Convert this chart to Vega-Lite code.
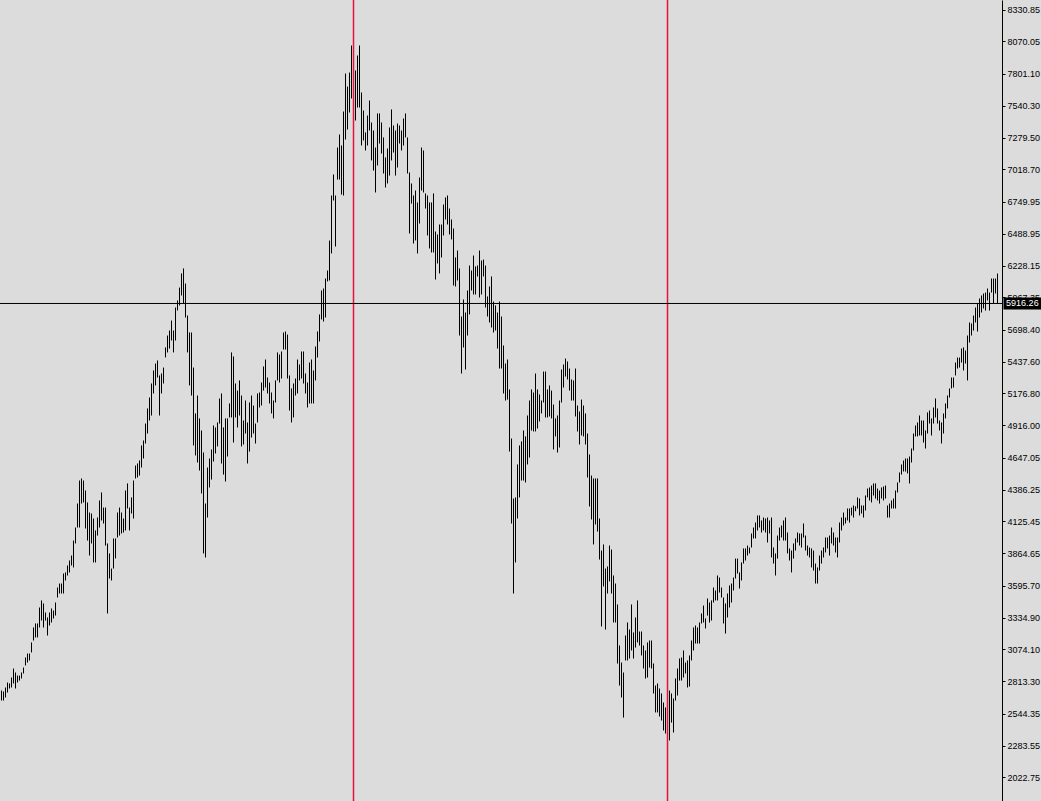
{
  "$schema": "https://vega.github.io/schema/vega-lite/v6.json",
  "width": 1002,
  "height": 801,
  "autosize": {"type": "none"},
  "padding": {"left": 0, "top": 0, "right": 39, "bottom": 0},
  "background": "#dcdcdc",
  "config": {
    "view": {"stroke": null, "fill": "#dcdcdc"},
    "axisY": {
      "grid": false,
      "domainColor": "#000000",
      "domainWidth": 1,
      "tickColor": "#000000",
      "tickSize": 3,
      "labelPadding": 2,
      "labelFont": "Liberation Sans",
      "labelFontSize": 9,
      "labelColor": "#000000",
      "labelBaseline": "middle",
      "labelAlign": "left",
      "labelOverlap": false,
      "labelBound": false,
      "labelFlush": false,
      "tickCount": 40
    }
  },
  "datasets": {
    "bars": [
      {"i":0,"h":2737,"l":2655},{"i":1,"h":2729,"l":2655},{"i":2,"h":2762,"l":2680},{"i":3,"h":2803,"l":2721},{"i":4,"h":2795,"l":2754},
      {"i":5,"h":2844,"l":2762},{"i":6,"h":2918,"l":2795},{"i":7,"h":2885,"l":2754},{"i":8,"h":2860,"l":2803},{"i":9,"h":2860,"l":2819},
      {"i":10,"h":2885,"l":2836},{"i":11,"h":2926,"l":2877},{"i":12,"h":3008,"l":2943},{"i":13,"h":3041,"l":2967},{"i":14,"h":3041,"l":2984},
      {"i":15,"h":3132,"l":3050},{"i":16,"h":3255,"l":3148},{"i":17,"h":3288,"l":3173},{"i":18,"h":3288,"l":3173},{"i":19,"h":3419,"l":3255},
      {"i":20,"h":3477,"l":3312},{"i":21,"h":3452,"l":3255},{"i":22,"h":3378,"l":3312},{"i":23,"h":3337,"l":3189},{"i":24,"h":3378,"l":3271},
      {"i":25,"h":3411,"l":3296},{"i":26,"h":3394,"l":3329},{"i":27,"h":3460,"l":3353},{"i":28,"h":3583,"l":3501},{"i":29,"h":3616,"l":3534},
      {"i":30,"h":3616,"l":3534},{"i":31,"h":3698,"l":3534},{"i":32,"h":3707,"l":3641},{"i":33,"h":3764,"l":3682},{"i":34,"h":3805,"l":3707},
      {"i":35,"h":3846,"l":3764},{"i":36,"h":3969,"l":3748},{"i":37,"h":4076,"l":3945},{"i":38,"h":4273,"l":4076},{"i":39,"h":4462,"l":4076},
      {"i":40,"h":4479,"l":4273},{"i":41,"h":4462,"l":4282},{"i":42,"h":4380,"l":4068},{"i":43,"h":4282,"l":3969},{"i":44,"h":4199,"l":3846},
      {"i":45,"h":4191,"l":3945},{"i":46,"h":4150,"l":3789},{"i":47,"h":4052,"l":3789},{"i":48,"h":4158,"l":4010},{"i":49,"h":4298,"l":4076},
      {"i":50,"h":4364,"l":4134},{"i":51,"h":4240,"l":4109},{"i":52,"h":4240,"l":3928},{"i":53,"h":3945,"l":3370},{"i":54,"h":3863,"l":3657},
      {"i":55,"h":3739,"l":3641},{"i":56,"h":3986,"l":3739},{"i":57,"h":3986,"l":3822},{"i":58,"h":4199,"l":3994},{"i":59,"h":4240,"l":4010},
      {"i":60,"h":4199,"l":4027},{"i":61,"h":4150,"l":4035},{"i":62,"h":4380,"l":4052},{"i":63,"h":4438,"l":4232},{"i":64,"h":4240,"l":4052},
      {"i":65,"h":4323,"l":4191},{"i":66,"h":4462,"l":4150},{"i":67,"h":4585,"l":4479},{"i":68,"h":4602,"l":4487},{"i":69,"h":4627,"l":4503},
      {"i":70,"h":4750,"l":4569},{"i":71,"h":4791,"l":4643},{"i":72,"h":4930,"l":4766},{"i":73,"h":5054,"l":4848},{"i":74,"h":5144,"l":4955},
      {"i":75,"h":5259,"l":4996},{"i":76,"h":5366,"l":5177},{"i":77,"h":5423,"l":5243},{"i":78,"h":5448,"l":5308},{"i":79,"h":5325,"l":4996},
      {"i":80,"h":5341,"l":5177},{"i":81,"h":5390,"l":5259},{"i":82,"h":5555,"l":5473},{"i":83,"h":5653,"l":5514},{"i":84,"h":5694,"l":5546},
      {"i":85,"h":5776,"l":5612},{"i":86,"h":5694,"l":5514},{"i":87,"h":5883,"l":5612},{"i":88,"h":5941,"l":5859},{"i":89,"h":6047,"l":5900},
      {"i":90,"h":6163,"l":5982},{"i":91,"h":6204,"l":5916},{"i":92,"h":6080,"l":5801},{"i":93,"h":5817,"l":5514},{"i":94,"h":5678,"l":5243},
      {"i":95,"h":5678,"l":5160},{"i":96,"h":5390,"l":4750},{"i":97,"h":5013,"l":4668},{"i":98,"h":5160,"l":4610},{"i":99,"h":4972,"l":4544},
      {"i":100,"h":4873,"l":4356},{"i":101,"h":4692,"l":3863},{"i":102,"h":4273,"l":3830},{"i":103,"h":4569,"l":4158},{"i":104,"h":4643,"l":4405},
      {"i":105,"h":4717,"l":4470},{"i":106,"h":4914,"l":4618},{"i":107,"h":4898,"l":4684},{"i":108,"h":4939,"l":4742},{"i":109,"h":5136,"l":4930},
      {"i":110,"h":5177,"l":4602},{"i":111,"h":4898,"l":4511},{"i":112,"h":4972,"l":4454},{"i":113,"h":4972,"l":4659},{"i":114,"h":5095,"l":4980},
      {"i":115,"h":5514,"l":4980},{"i":116,"h":5481,"l":4774},{"i":117,"h":5259,"l":4980},{"i":118,"h":5201,"l":4898},{"i":119,"h":5284,"l":4996},
      {"i":120,"h":5160,"l":4742},{"i":121,"h":4955,"l":4758},{"i":122,"h":5119,"l":4848},{"i":123,"h":4939,"l":4602},{"i":124,"h":5103,"l":4700},
      {"i":125,"h":5160,"l":4815},{"i":126,"h":5078,"l":4848},{"i":127,"h":4930,"l":4766},{"i":128,"h":5177,"l":4939},{"i":129,"h":5185,"l":5062},
      {"i":130,"h":5267,"l":5078},{"i":131,"h":5399,"l":5201},{"i":132,"h":5456,"l":5226},{"i":133,"h":5308,"l":5177},{"i":134,"h":5267,"l":5095},
      {"i":135,"h":5185,"l":5013},{"i":136,"h":5119,"l":4972},{"i":137,"h":5284,"l":5103},{"i":138,"h":5514,"l":5284},{"i":139,"h":5497,"l":5267},
      {"i":140,"h":5522,"l":5300},{"i":141,"h":5678,"l":5538},{"i":142,"h":5686,"l":5538},{"i":143,"h":5661,"l":5300},{"i":144,"h":5325,"l":5037},
      {"i":145,"h":5218,"l":4939},{"i":146,"h":5259,"l":4980},{"i":147,"h":5300,"l":5160},{"i":148,"h":5456,"l":5177},{"i":149,"h":5415,"l":5284},
      {"i":150,"h":5522,"l":5300},{"i":151,"h":5522,"l":5259},{"i":152,"h":5341,"l":5177},{"i":153,"h":5267,"l":5062},{"i":154,"h":5431,"l":5095},
      {"i":155,"h":5456,"l":5095},{"i":156,"h":5366,"l":5095},{"i":157,"h":5563,"l":5284},{"i":158,"h":5686,"l":5472},{"i":159,"h":5826,"l":5604},
      {"i":160,"h":6023,"l":5785},{"i":161,"h":6039,"l":5768},{"i":162,"h":6121,"l":5801},{"i":163,"h":6187,"l":6097},{"i":164,"h":6433,"l":6105},
      {"i":165,"h":6803,"l":6327},{"i":166,"h":6976,"l":6762},{"i":167,"h":6803,"l":6384},{"i":168,"h":7197,"l":6934},{"i":169,"h":7304,"l":6934},
      {"i":170,"h":7214,"l":6811},{"i":171,"h":7493,"l":6803},{"i":172,"h":7805,"l":7263},{"i":173,"h":7698,"l":7345},{"i":174,"h":7813,"l":7485},
      {"i":175,"h":8035,"l":7600},{"i":176,"h":7950,"l":7450},{"i":177,"h":7830,"l":7419},{"i":178,"h":7953,"l":7526},{"i":179,"h":8035,"l":7526},
      {"i":180,"h":7649,"l":7214},{"i":181,"h":7501,"l":7255},{"i":182,"h":7321,"l":7173},{"i":183,"h":7460,"l":7214},{"i":184,"h":7583,"l":7337},
      {"i":185,"h":7403,"l":7091},{"i":186,"h":7337,"l":7008},{"i":187,"h":7197,"l":6828},{"i":188,"h":7477,"l":7050},{"i":189,"h":7477,"l":7230},
      {"i":190,"h":7403,"l":7148},{"i":191,"h":7280,"l":6984},{"i":192,"h":7115,"l":6869},{"i":193,"h":7189,"l":6902},{"i":194,"h":7362,"l":6967},
      {"i":195,"h":7510,"l":7091},{"i":196,"h":7378,"l":7156},{"i":197,"h":7337,"l":6967},{"i":198,"h":7394,"l":7033},{"i":199,"h":7378,"l":7230},
      {"i":200,"h":7337,"l":7173},{"i":201,"h":7436,"l":7214},{"i":202,"h":7477,"l":7280},{"i":203,"h":7280,"l":6984},{"i":204,"h":6992,"l":6491},
      {"i":205,"h":6902,"l":6737},{"i":206,"h":6803,"l":6409},{"i":207,"h":6844,"l":6434},{"i":208,"h":6746,"l":6327},{"i":209,"h":6951,"l":6573},
      {"i":210,"h":7197,"l":6844},{"i":211,"h":7173,"l":6828},{"i":212,"h":6820,"l":6696},{"i":213,"h":6803,"l":6475},{"i":214,"h":6746,"l":6368},
      {"i":215,"h":6746,"l":6335},{"i":216,"h":6820,"l":6335},{"i":217,"h":6507,"l":6113},{"i":218,"h":6483,"l":6245},{"i":219,"h":6565,"l":6163},
      {"i":220,"h":6565,"l":6294},{"i":221,"h":6729,"l":6475},{"i":222,"h":6787,"l":6606},{"i":223,"h":6803,"l":6565},{"i":224,"h":6696,"l":6483},
      {"i":225,"h":6606,"l":6442},{"i":226,"h":6532,"l":6064},{"i":227,"h":6294,"l":6056},{"i":228,"h":6351,"l":6105},{"i":229,"h":6204,"l":5653},
      {"i":230,"h":5809,"l":5341},{"i":231,"h":5949,"l":5555},{"i":232,"h":5842,"l":5374},{"i":233,"h":6023,"l":5653},{"i":234,"h":6228,"l":5826},
      {"i":235,"h":6187,"l":6023},{"i":236,"h":6310,"l":5990},{"i":237,"h":6220,"l":5990},{"i":238,"h":6228,"l":6138},{"i":239,"h":6351,"l":5965},
      {"i":240,"h":6269,"l":5990},{"i":241,"h":6277,"l":6138},{"i":242,"h":6228,"l":5883},{"i":243,"h":5974,"l":5809},{"i":244,"h":6056,"l":5760},
      {"i":245,"h":6138,"l":5719},{"i":246,"h":5932,"l":5678},{"i":247,"h":5900,"l":5694},{"i":248,"h":5842,"l":5546},{"i":249,"h":5932,"l":5382},
      {"i":250,"h":5809,"l":5382},{"i":251,"h":5571,"l":5177},{"i":252,"h":5423,"l":5119},{"i":253,"h":5456,"l":5127},{"i":254,"h":5210,"l":4700},
      {"i":255,"h":4807,"l":4109},{"i":256,"h":4314,"l":3534},{"i":257,"h":4323,"l":3789},{"i":258,"h":4594,"l":4150},{"i":259,"h":4750,"l":4323},
      {"i":260,"h":4783,"l":4462},{"i":261,"h":4873,"l":4462},{"i":262,"h":4824,"l":4446},{"i":263,"h":4996,"l":4594},{"i":264,"h":5119,"l":4651},
      {"i":265,"h":5210,"l":4873},{"i":266,"h":5185,"l":4865},{"i":267,"h":5341,"l":4865},{"i":268,"h":5210,"l":4889},{"i":269,"h":5169,"l":4947},
      {"i":270,"h":5119,"l":5013},{"i":271,"h":5357,"l":5103},{"i":272,"h":5357,"l":4980},{"i":273,"h":5210,"l":4980},{"i":274,"h":5243,"l":4988},
      {"i":275,"h":5201,"l":4972},{"i":276,"h":5086,"l":4717},{"i":277,"h":4972,"l":4824},{"i":278,"h":4996,"l":4692},{"i":279,"h":5119,"l":4733},
      {"i":280,"h":5374,"l":5103},{"i":281,"h":5415,"l":5226},{"i":282,"h":5464,"l":5316},{"i":283,"h":5440,"l":5292},{"i":284,"h":5382,"l":5201},
      {"i":285,"h":5292,"l":5119},{"i":286,"h":5284,"l":5119},{"i":287,"h":5382,"l":4988},{"i":288,"h":5078,"l":4865},{"i":289,"h":5029,"l":4758},
      {"i":290,"h":5127,"l":4832},{"i":291,"h":5078,"l":4824},{"i":292,"h":5013,"l":4758},{"i":293,"h":4848,"l":4487},{"i":294,"h":4676,"l":4249},
      {"i":295,"h":4503,"l":4142},{"i":296,"h":4479,"l":3937},{"i":297,"h":4479,"l":4101},{"i":298,"h":4479,"l":4043},{"i":299,"h":4150,"l":3813},
      {"i":300,"h":3887,"l":3263},{"i":301,"h":3937,"l":3592},{"i":302,"h":3739,"l":3238},{"i":303,"h":3756,"l":3534},{"i":304,"h":3928,"l":3633},
      {"i":305,"h":3895,"l":3534},{"i":306,"h":3682,"l":3296},{"i":307,"h":3616,"l":3296},{"i":308,"h":3444,"l":2959},{"i":309,"h":3107,"l":2778},
      {"i":310,"h":2967,"l":2680},{"i":311,"h":2885,"l":2515},{"i":312,"h":3189,"l":2984},{"i":313,"h":3296,"l":2984},{"i":314,"h":3238,"l":3000},
      {"i":315,"h":3444,"l":3066},{"i":316,"h":3214,"l":3000},{"i":317,"h":3337,"l":3090},{"i":318,"h":3477,"l":3132},{"i":319,"h":3222,"l":3107},
      {"i":320,"h":3222,"l":3025},{"i":321,"h":3107,"l":2918},{"i":322,"h":3066,"l":2836},{"i":323,"h":3132,"l":2844},{"i":324,"h":3148,"l":2926},
      {"i":325,"h":3148,"l":2918},{"i":326,"h":2959,"l":2713},{"i":327,"h":2778,"l":2557},{"i":328,"h":2795,"l":2557},{"i":329,"h":2754,"l":2524},
      {"i":330,"h":2713,"l":2491},{"i":331,"h":2639,"l":2409},{"i":332,"h":2598,"l":2384},{"i":333,"h":2655,"l":2310},{"i":334,"h":2737,"l":2327},
      {"i":335,"h":2713,"l":2474},{"i":336,"h":2672,"l":2392},{"i":337,"h":2836,"l":2655},{"i":338,"h":2918,"l":2696},{"i":339,"h":3000,"l":2819},
      {"i":340,"h":3008,"l":2819},{"i":341,"h":3066,"l":2844},{"i":342,"h":2967,"l":2877},{"i":343,"h":2984,"l":2762},{"i":344,"h":3025,"l":2770},
      {"i":345,"h":3148,"l":2984},{"i":346,"h":3255,"l":3066},{"i":347,"h":3271,"l":3123},{"i":348,"h":3255,"l":3123},{"i":349,"h":3296,"l":3123},
      {"i":350,"h":3370,"l":3288},{"i":351,"h":3435,"l":3296},{"i":352,"h":3329,"l":3247},{"i":353,"h":3493,"l":3353},{"i":354,"h":3460,"l":3296},
      {"i":355,"h":3477,"l":3312},{"i":356,"h":3583,"l":3460},{"i":357,"h":3559,"l":3477},{"i":358,"h":3682,"l":3477},{"i":359,"h":3665,"l":3542},
      {"i":360,"h":3583,"l":3501},{"i":361,"h":3501,"l":3288},{"i":362,"h":3452,"l":3205},{"i":363,"h":3534,"l":3337},{"i":364,"h":3600,"l":3419},
      {"i":365,"h":3616,"l":3460},{"i":366,"h":3665,"l":3559},{"i":367,"h":3821,"l":3657},{"i":368,"h":3821,"l":3698},{"i":369,"h":3707,"l":3575},
      {"i":370,"h":3789,"l":3641},{"i":371,"h":3904,"l":3780},{"i":372,"h":3904,"l":3805},{"i":373,"h":3928,"l":3846},{"i":374,"h":3912,"l":3863},
      {"i":375,"h":4027,"l":3912},{"i":376,"h":4076,"l":3986},{"i":377,"h":4117,"l":3986},{"i":378,"h":4175,"l":4052},{"i":379,"h":4175,"l":4076},
      {"i":380,"h":4134,"l":4035},{"i":381,"h":4158,"l":4052},{"i":382,"h":4150,"l":4035},{"i":383,"h":4158,"l":3953},{"i":384,"h":4134,"l":4027},
      {"i":385,"h":4158,"l":3830},{"i":386,"h":3912,"l":3780},{"i":387,"h":3863,"l":3682},{"i":388,"h":4010,"l":3821},{"i":389,"h":4076,"l":3969},
      {"i":390,"h":4093,"l":3994},{"i":391,"h":4134,"l":3969},{"i":392,"h":4158,"l":3969},{"i":393,"h":4035,"l":3863},{"i":394,"h":3904,"l":3805},
      {"i":395,"h":3887,"l":3707},{"i":396,"h":3945,"l":3821},{"i":397,"h":3986,"l":3887},{"i":398,"h":4035,"l":3953},{"i":399,"h":4027,"l":3928},
      {"i":400,"h":4027,"l":3912},{"i":401,"h":4109,"l":3994},{"i":402,"h":4010,"l":3887},{"i":403,"h":3928,"l":3846},{"i":404,"h":3912,"l":3830},
      {"i":405,"h":3904,"l":3748},{"i":406,"h":3887,"l":3723},{"i":407,"h":3780,"l":3616},{"i":408,"h":3748,"l":3616},{"i":409,"h":3846,"l":3723},
      {"i":410,"h":3887,"l":3780},{"i":411,"h":3912,"l":3830},{"i":412,"h":3994,"l":3871},{"i":413,"h":3994,"l":3904},{"i":414,"h":4010,"l":3846},
      {"i":415,"h":4076,"l":3945},{"i":416,"h":4035,"l":3928},{"i":417,"h":3994,"l":3871},{"i":418,"h":3994,"l":3830},{"i":419,"h":4117,"l":3953},
      {"i":420,"h":4158,"l":4052},{"i":421,"h":4199,"l":4093},{"i":422,"h":4158,"l":4109},{"i":423,"h":4232,"l":4134},{"i":424,"h":4232,"l":4117},
      {"i":425,"h":4240,"l":4175},{"i":426,"h":4257,"l":4158},{"i":427,"h":4250,"l":4210},{"i":428,"h":4323,"l":4232},{"i":429,"h":4314,"l":4175},
      {"i":430,"h":4257,"l":4191},{"i":431,"h":4257,"l":4158},{"i":432,"h":4339,"l":4216},{"i":433,"h":4396,"l":4323},{"i":434,"h":4405,"l":4298},
      {"i":435,"h":4421,"l":4282},{"i":436,"h":4438,"l":4339},{"i":437,"h":4438,"l":4314},{"i":438,"h":4396,"l":4298},{"i":439,"h":4380,"l":4273},
      {"i":440,"h":4405,"l":4314},{"i":441,"h":4413,"l":4298},{"i":442,"h":4421,"l":4314},{"i":443,"h":4257,"l":4158},{"i":444,"h":4273,"l":4158},
      {"i":445,"h":4298,"l":4232},{"i":446,"h":4314,"l":4232},{"i":447,"h":4380,"l":4232},{"i":448,"h":4446,"l":4364},{"i":449,"h":4528,"l":4446},
      {"i":450,"h":4594,"l":4511},{"i":451,"h":4626,"l":4536},{"i":452,"h":4643,"l":4536},{"i":453,"h":4643,"l":4520},{"i":454,"h":4659,"l":4438},
      {"i":455,"h":4725,"l":4610},{"i":456,"h":4848,"l":4709},{"i":457,"h":4914,"l":4824},{"i":458,"h":4939,"l":4824},{"i":459,"h":4996,"l":4832},
      {"i":460,"h":4955,"l":4832},{"i":461,"h":4955,"l":4774},{"i":462,"h":4873,"l":4725},{"i":463,"h":5021,"l":4848},{"i":464,"h":5037,"l":4930},
      {"i":465,"h":4972,"l":4832},{"i":466,"h":5062,"l":4930},{"i":467,"h":5136,"l":4980},{"i":468,"h":5054,"l":4930},{"i":469,"h":4955,"l":4873},
      {"i":470,"h":4939,"l":4766},{"i":471,"h":5013,"l":4848},{"i":472,"h":5095,"l":4972},{"i":473,"h":5160,"l":5054},{"i":474,"h":5218,"l":5144},
      {"i":475,"h":5308,"l":5218},{"i":476,"h":5308,"l":5226},{"i":477,"h":5431,"l":5325},{"i":478,"h":5472,"l":5382},{"i":479,"h":5472,"l":5390},
      {"i":480,"h":5546,"l":5431},{"i":481,"h":5555,"l":5366},{"i":482,"h":5530,"l":5423},{"i":483,"h":5653,"l":5284},{"i":484,"h":5760,"l":5596},
      {"i":485,"h":5752,"l":5653},{"i":486,"h":5817,"l":5694},{"i":487,"h":5883,"l":5760},{"i":488,"h":5916,"l":5686},{"i":489,"h":5957,"l":5801},
      {"i":490,"h":5982,"l":5842},{"i":491,"h":5998,"l":5875},{"i":492,"h":6006,"l":5858},{"i":493,"h":6039,"l":5941},{"i":494,"h":6006,"l":5858},
      {"i":495,"h":6121,"l":6006},{"i":496,"h":6121,"l":5916},{"i":497,"h":6121,"l":5998},{"i":498,"h":6162,"l":5916}
    ],
    "seps": [{"i": 176}, {"i": 333}],
    "cur": [{"price": 5916.26, "label": "5916.26", "x0": 501, "x1": 522, "xt": 502.3, "top": 5965.5, "bottom": 5867}]
  },
  "layer": [
    {
      "data": {"name": "bars"},
      "mark": {"type": "rule", "strokeWidth": 1},
      "encoding": {
        "x": {"field": "i", "type": "quantitative",
              "scale": {"domain": [-0.75, 500.25], "nice": false, "zero": false},
              "axis": null},
        "y": {"field": "h", "type": "quantitative",
              "scale": {"domain": [1829.7, 8408.9], "nice": false, "zero": false},
              "axis": {
                "orient": "right",
                "title": null,
                "values": [8330.85, 8070.05, 7801.10, 7540.30, 7279.50, 7018.70, 6749.95, 6488.95, 6228.15, 5967.35, 5698.40, 5437.60, 5176.80, 4916.00, 4647.05, 4386.25, 4125.45, 3864.65, 3595.70, 3334.90, 3074.10, 2813.30, 2544.35, 2283.55, 2022.75],
                "format": ".2f",
                "tickCount": 40,
                "labelOverlap": false
              }},
        "y2": {"field": "l"},
        "color": {"value": "#000000"}
      }
    },
    {
      "data": {"name": "seps"},
      "mark": {"type": "rule", "strokeWidth": 1.5},
      "encoding": {
        "x": {"field": "i", "type": "quantitative"},
        "y": {"datum": 1829.7, "type": "quantitative", "axis": {"title": null}},
        "y2": {"datum": 8408.9},
        "color": {"value": "#e8103c"}
      }
    },
    {
      "data": {"name": "cur"},
      "mark": {"type": "rule", "strokeWidth": 1},
      "encoding": {
        "y": {"field": "price", "type": "quantitative", "axis": {"title": null}},
        "color": {"value": "#000000"}
      }
    },
    {
      "data": {"name": "cur"},
      "mark": {"type": "rect", "clip": false},
      "encoding": {
        "x": {"field": "x0", "type": "quantitative"},
        "x2": {"field": "x1"},
        "y": {"field": "top", "type": "quantitative", "axis": {"title": null}},
        "y2": {"field": "bottom"},
        "color": {"value": "#000000"}
      }
    },
    {
      "data": {"name": "cur"},
      "mark": {"type": "text", "align": "left", "baseline": "middle", "font": "Liberation Sans", "fontSize": 9},
      "encoding": {
        "x": {"field": "xt", "type": "quantitative"},
        "y": {"field": "price", "type": "quantitative", "axis": {"title": null}},
        "text": {"field": "label"},
        "color": {"value": "#ffffff"}
      }
    }
  ]
}
